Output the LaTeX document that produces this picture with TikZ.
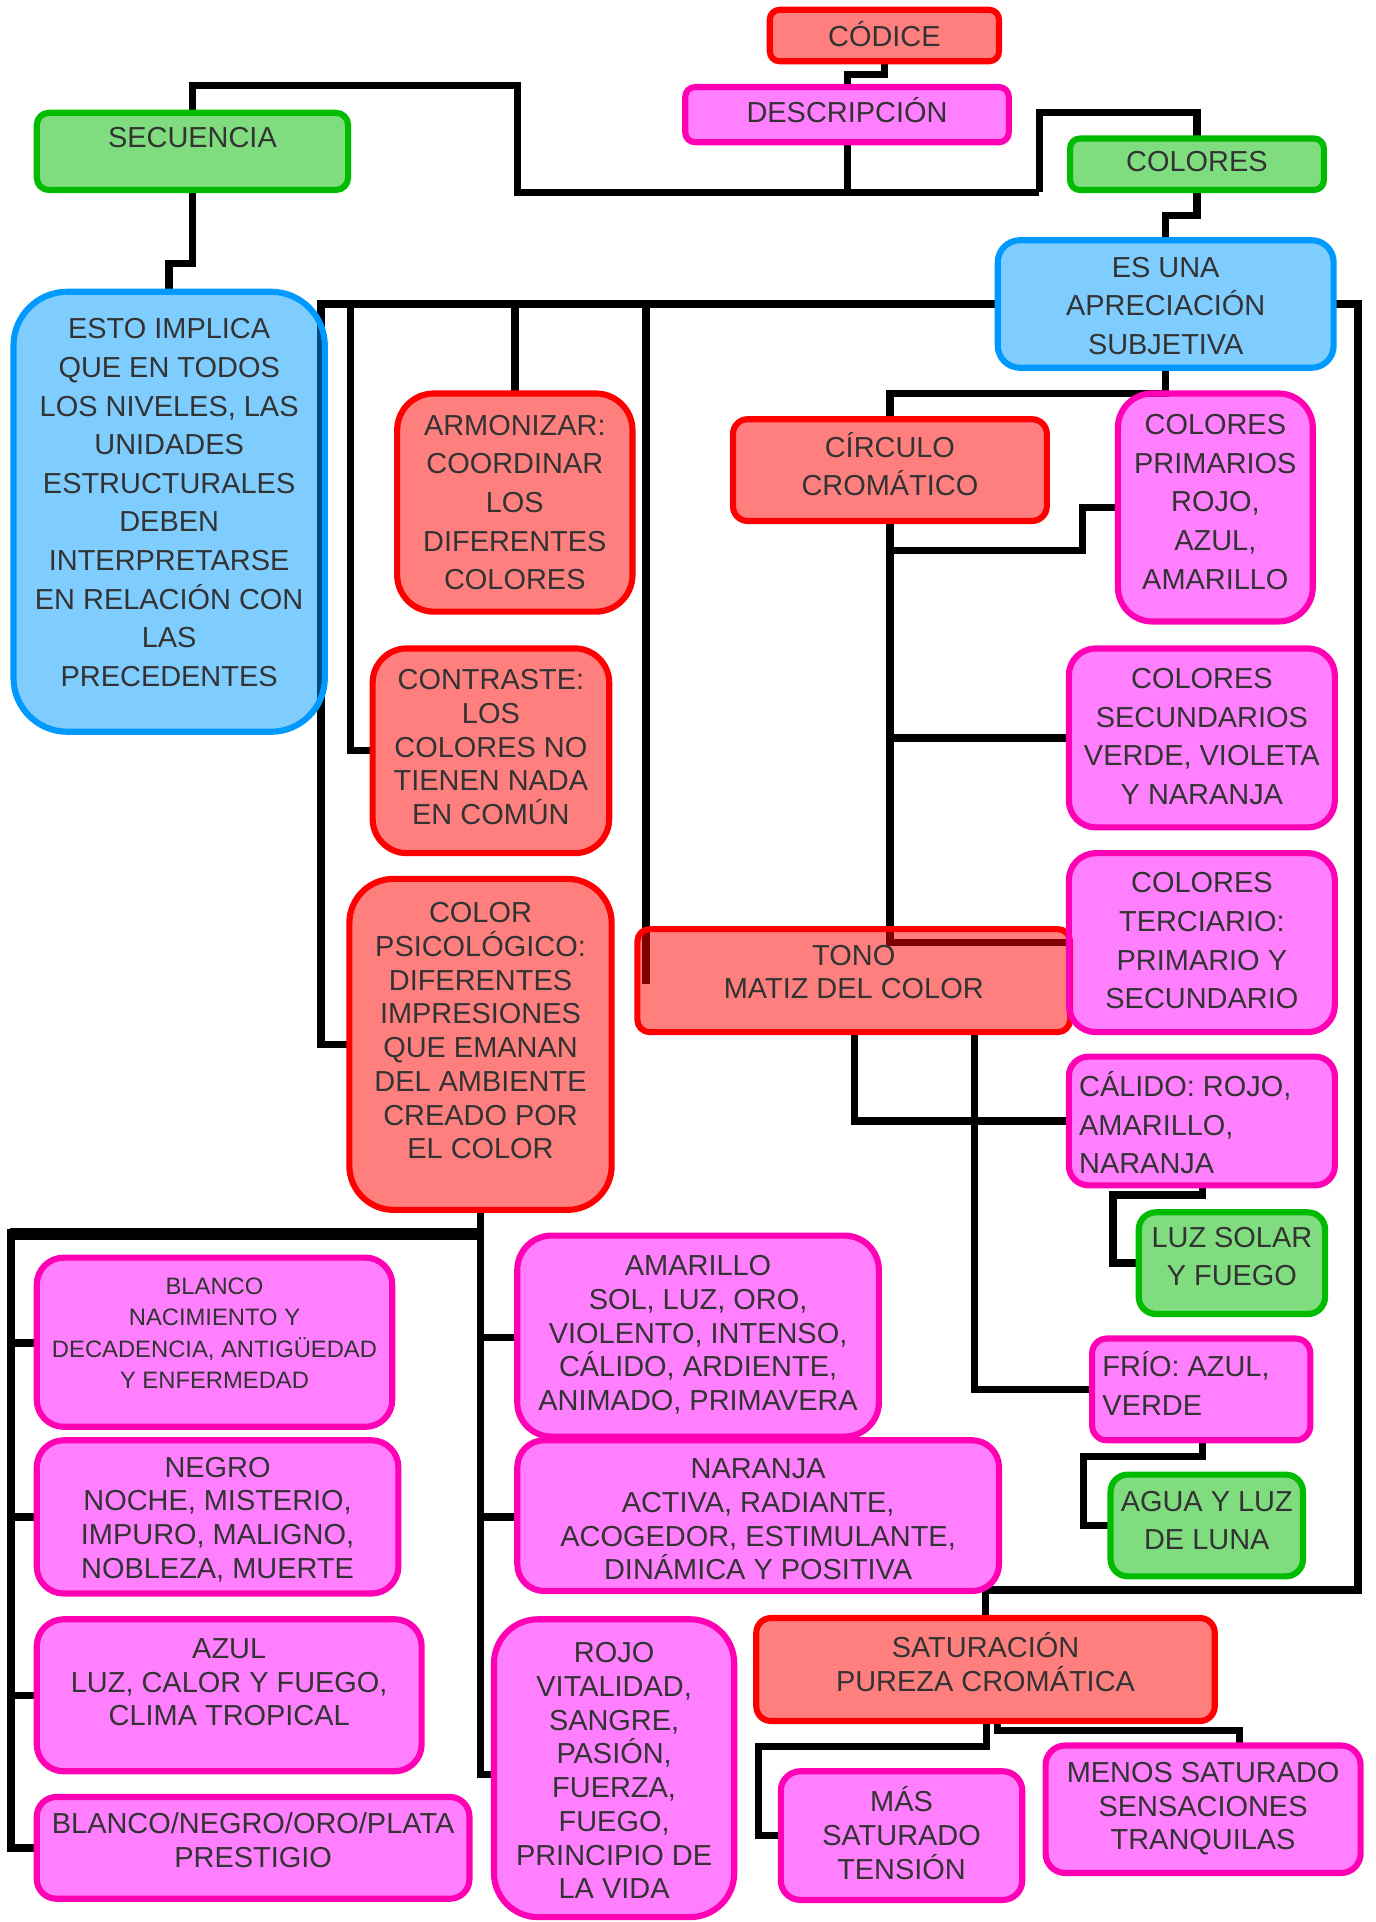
\documentclass[tikz,border=0pt]{standalone}
\usepackage{fontspec}
\setmainfont{Liberation Sans}
\definecolor{boxred}{HTML}{FF0000}
\definecolor{boxpink}{HTML}{FF00FF}
\definecolor{boxpinkline}{HTML}{FF00B4}
\definecolor{boxgreen}{HTML}{00BB00}
\definecolor{boxblue}{HTML}{0099FF}
\definecolor{textgray}{HTML}{333333}
% #1 name, #2 style, #3 x1, #4 y1, #5 x2, #6 y2, #7 corner radius
\newcommand\placebox[7]{%
  \node[#2, rounded corners=#7, minimum width={(#5-#3)*0.5pt}, minimum height={(#6-#4)*0.5pt}]
    (#1) at ({(#3+#5)/2},{(#4+#6)/2}) {};}
\begin{document}
\begin{tikzpicture}[x=0.5pt,y=-0.5pt,
  conn/.style={draw=black, line width=3pt},
  box/.style={line width=2.5pt, fill opacity=0.5, inner sep=0pt, outer sep=0pt},
  redbox/.style={box, draw=boxred, fill=boxred},
  pinkbox/.style={box, draw=boxpinkline, fill=boxpink},
  greenbox/.style={box, draw=boxgreen, fill=boxgreen},
  bluebox/.style={box, draw=boxblue, fill=boxblue},
  txt/.style={text=textgray, align=center, inner sep=0pt},
  txtl/.style={text=textgray, align=left, inner sep=0pt, anchor=west},
  big/.style={font=\fontsize{11.8}{15.75}\selectfont},
  mid/.style={font=\fontsize{11.8}{13.75}\selectfont},
  small/.style={font=\fontsize{9.7}{12.85}\selectfont},
]
\useasboundingbox (0,0) rectangle (1122,1568);

% junction points of the top bar
\coordinate (jL) at (422,157);
\coordinate (jR) at (848,157);

% ---------- connectors (drawn first, boxes are translucent) ----------
\begin{scope}[conn]
% header
\draw (721.5,50) -- (721.5,61) -| (691.5,71);
\draw (691.5,116) -- (691.5,157);
\draw (jR) -- (jL) -- (422,70) -| (157,92);
\draw (jR) -- (848,92) -| (976.5,113);
\draw (157,155) -- (157,215) -| (138,238);
\draw (976.5,155) -- (976.5,176) -| (951,196);
% left branch of the subjective appreciation
\draw (814,248) -| (262,852) -- (285,852);
\draw (286,248) |- (304,612.5);
\draw (420,248) -- (420,321);
\draw (527,248) -- (527,803);
% chromatic circle
\draw (951,300) -- (951,321) -| (726,342);
\draw (726,425) |- (872,769);
\draw (726,449) -| (883,414) -- (912,414);
\draw (726,602) -- (872,602);
% right loop down to saturation
\draw (1088,248) -| (1108,1297) -| (804,1320);
% tone
\draw (697,842) |- (872,914.5);
\draw (795,842) |- (891,1133.5);
\draw (981,967) -- (981,975) -| (908,1030.5) -- (929,1030.5);
\draw (981,1175) -- (981,1188) -| (884,1244.5) -- (906,1244.5);
% psychological colour
\draw (392,987) -- (392,1007);
\draw[line width=4.8pt] (392,1007) -- (7.8,1007);
\draw (9,1003) -- (9,1507.5) -- (30,1507.5);
\draw (9,1095.5) -- (30,1095.5);
\draw (9,1237.5) -- (30,1237.5);
\draw (9,1383) -- (30,1383);
\draw (392,1007) -- (392,1447.5) -- (403,1447.5);
\draw (392,1091) -- (422,1091);
\draw (392,1237.5) -- (422,1237.5);
% saturation
\draw (805,1403) -- (805,1425) -| (619,1497.5) -- (637,1497.5);
\draw (814,1403) -- (814,1411.5) -| (1011,1425);
\end{scope}

% ---------- boxes ----------
\placebox{codice}{redbox}{628}{8}{815}{50}{4pt}
\placebox{desc}{pinkbox}{559}{71}{823}{116}{4pt}
\placebox{secu}{greenbox}{30}{92}{284}{155}{5pt}
\placebox{colores}{greenbox}{873}{113}{1080}{155}{4pt}
\placebox{esuna}{bluebox}{814}{196}{1088}{300}{9pt}
\placebox{esto}{bluebox}{11}{238}{265}{597}{22pt}
\placebox{armon}{redbox}{324}{321}{516}{499}{15pt}
\placebox{circulo}{redbox}{598}{342}{854}{425}{6pt}
\placebox{primarios}{pinkbox}{912}{321}{1071}{507}{14pt}
\placebox{contraste}{redbox}{304}{529}{497}{696}{14pt}
\placebox{secund}{pinkbox}{872}{529}{1089}{675}{11pt}
\placebox{psico}{redbox}{285}{717}{499}{987}{18pt}
\placebox{tono}{redbox}{520}{758}{873}{842}{5pt}
\placebox{terciario}{pinkbox}{872}{696}{1089}{842}{11pt}
\placebox{calido}{pinkbox}{872}{862}{1089}{967}{8pt}
\placebox{luzsolar}{greenbox}{929}{989}{1081}{1072}{7pt}
\placebox{frio}{pinkbox}{891}{1092}{1069}{1175}{6pt}
\placebox{agua}{greenbox}{906}{1203}{1063}{1286}{7pt}
\placebox{blanco}{pinkbox}{30}{1026}{320}{1164}{11pt}
\placebox{amarillo}{pinkbox}{422}{1008}{717}{1172}{14pt}
\placebox{negro}{pinkbox}{30}{1175}{325}{1300}{11pt}
\placebox{naranja}{pinkbox}{422}{1175}{815}{1298}{11pt}
\placebox{azul}{pinkbox}{30}{1321}{344}{1445}{11pt}
\placebox{rojo}{pinkbox}{403}{1321}{599}{1564}{18pt}
\placebox{sat}{redbox}{617}{1320}{991}{1404}{6pt}
\placebox{bnop}{pinkbox}{30}{1466}{383}{1549}{8pt}
\placebox{mas}{pinkbox}{637}{1445}{834}{1550}{8pt}
\placebox{menos}{pinkbox}{853}{1424}{1110}{1528}{8pt}

% ---------- texts ----------
\node[txt,big] (codice-t) at (721.5,27.5) {CÓDICE};
\node[txt,big] (desc-t) at (691,90) {DESCRIPCIÓN};
\node[txt,big] (secu-t) at (157,112) {SECUENCIA};
\node[txt,big] (colores-t) at (976.5,132) {COLORES};
\node[txt,big] (esuna-t) at (951,249.5) {ES UNA\\APRECIACIÓN\\SUBJETIVA};
\node[txt,big] (esto-t) at (138,410) {ESTO IMPLICA\\QUE EN TODOS\\LOS NIVELES, LAS\\UNIDADES\\ESTRUCTURALES\\DEBEN\\INTERPRETARSE\\EN RELACIÓN CON\\LAS\\PRECEDENTES};
\node[txt,big] (armon-t) at (420,410) {ARMONIZAR:\\COORDINAR\\LOS\\DIFERENTES\\COLORES};
\node[txt,big] (circulo-t) at (726,378.5) {CÍRCULO\\CROMÁTICO};
\node[txt,big] (primarios-t) at (991.5,409.5) {COLORES\\PRIMARIOS\\ROJO,\\AZUL,\\AMARILLO};
\node[txt,mid] (contraste-t) at (400.5,609.5) {CONTRASTE:\\LOS\\COLORES NO\\TIENEN NADA\\EN COMÚN};
\node[txt,big] (secund-t) at (980.5,601) {COLORES\\SECUNDARIOS\\VERDE, VIOLETA\\Y NARANJA};
\node[txt,mid] (psico-t) at (392,841) {COLOR\\PSICOLÓGICO:\\DIFERENTES\\IMPRESIONES\\QUE EMANAN\\DEL AMBIENTE\\CREADO POR\\EL COLOR};
\node[txt,mid] (tono-t) at (696.5,793) {TONO\\MATIZ DEL COLOR};
\node[txt,big] (terciario-t) at (980.5,767.5) {COLORES\\TERCIARIO:\\PRIMARIO Y\\SECUNDARIO};
\node[txtl,big] (calido-t) at (880,916) {CÁLIDO: ROJO,\\AMARILLO,\\NARANJA};
\node[txt,big] (luzsolar-t) at (1005,1025) {LUZ SOLAR\\Y FUEGO};
\node[txtl,big] (frio-t) at (899,1128.5) {FRÍO: AZUL,\\VERDE};
\node[txt,big] (agua-t) at (984.5,1240.5) {AGUA Y LUZ\\DE LUNA};
\node[txt,small] (blanco-t) at (175,1087.5) {BLANCO\\NACIMIENTO Y\\DECADENCIA, ANTIGÜEDAD\\Y ENFERMEDAD};
\node[txt,mid] (amarillo-t) at (569.5,1089) {AMARILLO\\SOL, LUZ, ORO,\\VIOLENTO, INTENSO,\\CÁLIDO, ARDIENTE,\\ANIMADO, PRIMAVERA};
\node[txt,mid] (negro-t) at (177.5,1239.5) {NEGRO\\NOCHE, MISTERIO,\\IMPURO, MALIGNO,\\NOBLEZA, MUERTE};
\node[txt,mid] (naranja-t) at (618.5,1239.5) {NARANJA\\ACTIVA, RADIANTE,\\ACOGEDOR, ESTIMULANTE,\\DINÁMICA Y POSITIVA};
\node[txt,mid] (azul-t) at (187,1372.5) {AZUL\\LUZ, CALOR Y FUEGO,\\CLIMA TROPICAL};
\node[txt,mid] (rojo-t) at (501,1444.5) {ROJO\\VITALIDAD,\\SANGRE,\\PASIÓN,\\FUERZA,\\FUEGO,\\PRINCIPIO DE\\LA VIDA};
\node[txt,mid] (sat-t) at (804,1356) {SATURACIÓN\\PUREZA CROMÁTICA};
\node[txt,mid] (bnop-t) at (206.5,1501.5) {BLANCO/NEGRO/ORO/PLATA\\PRESTIGIO};
\node[txt,mid] (mas-t) at (735.5,1495.5) {MÁS\\SATURADO\\TENSIÓN};
\node[txt,mid] (menos-t) at (981.5,1475.5) {MENOS SATURADO\\SENSACIONES\\TRANQUILAS};
\end{tikzpicture}
\end{document}
